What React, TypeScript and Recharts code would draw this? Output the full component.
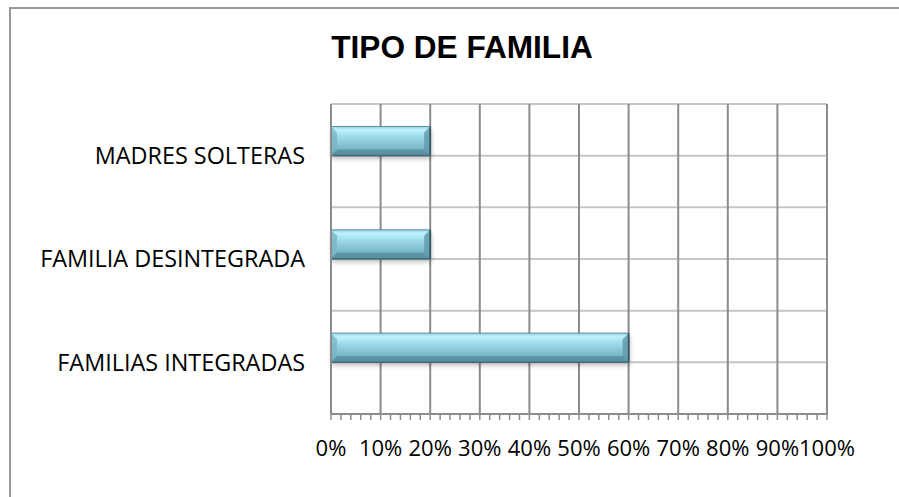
import React from 'react';
import { BarChart, Bar, XAxis, YAxis, CartesianGrid } from 'recharts';

const categories = ['MADRES SOLTERAS', 'FAMILIA DESINTEGRADA', 'FAMILIAS INTEGRADAS'];
const shares = [0.2, 0.2, 0.6];
const majorTicks = [0, 0.1, 0.2, 0.3, 0.4, 0.5, 0.6, 0.7, 0.8, 0.9, 1];
// minor ticks every 2%, 5 per major step
const axisTicks = Array.from({ length: 51 }, (_, i) => (i * 2) / 100);

const data = categories.map((name, i) => ({ name, value: shares[i] }));

const labelFont = '"Open Sans", sans-serif';

const BevelBar = (props: any) => {
  const { x, y, width, height, index } = props;
  if (!width || width <= 0) return null;
  const top = y - height / 2;
  const b = 6;
  const gid = `barGrad${index}`;
  const sid = `barShadow${index}`;
  return (
    <g>
      <defs>
        <linearGradient id={gid} x1="0" y1="0" x2="0" y2="1">
          <stop offset="0" stopColor="#9ad3e3" />
          <stop offset="0.12" stopColor="#bff2fc" />
          <stop offset="0.35" stopColor="#9edbea" />
          <stop offset="0.7" stopColor="#7fbcce" />
          <stop offset="1" stopColor="#659fb2" />
        </linearGradient>
        <filter id={sid} x="-10%" y="-50%" width="120%" height="200%">
          <feGaussianBlur stdDeviation="2.5" />
        </filter>
      </defs>
      <rect x={x + 1} y={top + 3} width={width} height={height} fill="#000" opacity={0.28} filter={`url(#${sid})`} />
      <rect x={x} y={top} width={width} height={height} fill={`url(#${gid})`} />
      <polygon
        points={`${x},${top} ${x + b},${top + b} ${x + b},${top + height - b} ${x},${top + height}`}
        fill="#78b5c7"
        opacity={0.8}
      />
      <polygon
        points={`${x + width},${top} ${x + width - b},${top + b} ${x + width - b},${top + height - b} ${x + width},${top + height}`}
        fill="#629cae"
        opacity={0.85}
      />
      <polygon
        points={`${x},${top + height} ${x + b},${top + height - b} ${x + width - b},${top + height - b} ${x + width},${top + height}`}
        fill="#578d9e"
        opacity={0.8}
      />
      <rect x={x} y={top} width={width} height={height} fill="none" stroke="#5d93a4" strokeWidth={1} />
      <line x1={x + width} y1={top} x2={x + width} y2={top + height} stroke="#2f4f5a" strokeWidth={1.5} />
      <line x1={x} y1={top + height} x2={x + width} y2={top + height} stroke="#3f6d7b" strokeWidth={1.5} />
    </g>
  );
};

const CategoryTick = (props: any) => {
  const { x, y, payload } = props;
  return (
    <text x={x} y={y} dy="0.36em" textAnchor="end" fill="#000" fontSize={23.4} fontFamily={labelFont}>
      {payload.value}
    </text>
  );
};

const PercentTick = (props: any) => {
  const { x, y, payload, index } = props;
  if (index % 5 !== 0) return <g />;
  return (
    <text x={x} y={y} dy={34} textAnchor="middle" fill="#000" fontSize={22} fontFamily={labelFont}>
      {`${Math.round(payload.value * 100)}%`}
    </text>
  );
};

export default function App() {
  return (
    <div style={{ position: 'absolute', left: 0, top: 0, width: 899, height: 497, background: '#fff', overflow: 'hidden' }}>
      <div
        style={{
          position: 'absolute',
          left: 9,
          top: 7,
          width: 960,
          height: 560,
          borderLeft: '2px solid #9a9a9a',
          borderTop: '2px solid #9a9a9a',
        }}
      />
      <svg width={899} height={80} style={{ position: 'absolute', left: 0, top: 0 }}>
        <text x={462} y={58} textAnchor="middle" fontSize={31.6} fontWeight="bold" fontFamily='"Liberation Sans", Arial, sans-serif' fill="#000">
          TIPO DE FAMILIA
        </text>
      </svg>
      <div style={{ position: 'absolute', left: 0, top: 0 }}>
        <BarChart
          width={899}
          height={497}
          data={data}
          layout="vertical"
          margin={{ top: 104, right: 72, bottom: 23, left: 31 }}
        >
          <CartesianGrid
            vertical={false}
            stroke="#c6c6c6"
            strokeWidth={2}
            horizontalCoordinatesGenerator={({ offset }: any) =>
              [0, 1, 2, 3, 4, 5, 6].map((i) => offset.top + (i * offset.height) / 6)
            }
          />
          <CartesianGrid
            horizontal={false}
            stroke="#8c8c8c"
            strokeWidth={2}
            verticalCoordinatesGenerator={({ offset }: any) =>
              majorTicks.map((v) => offset.left + v * offset.width)
            }
          />
          <XAxis
            type="number"
            domain={[0, 1]}
            ticks={axisTicks}
            interval={0}
            height={60}
            axisLine={{ stroke: '#8c8c8c', strokeWidth: 2 }}
            tickLine={{ stroke: '#8c8c8c', strokeWidth: 1.5 }}
            tickSize={6}
            tickMargin={2}
            tick={<PercentTick />}
          />
          <YAxis
            type="category"
            dataKey="name"
            width={300}
            axisLine={{ stroke: '#8c8c8c', strokeWidth: 2 }}
            tickLine={false}
            tickSize={0}
            tickMargin={26}
            tick={<CategoryTick />}
          />
          <Bar dataKey="value" barSize={29} shape={<BevelBar />} isAnimationActive={false} />
        </BarChart>
      </div>
    </div>
  );
}
